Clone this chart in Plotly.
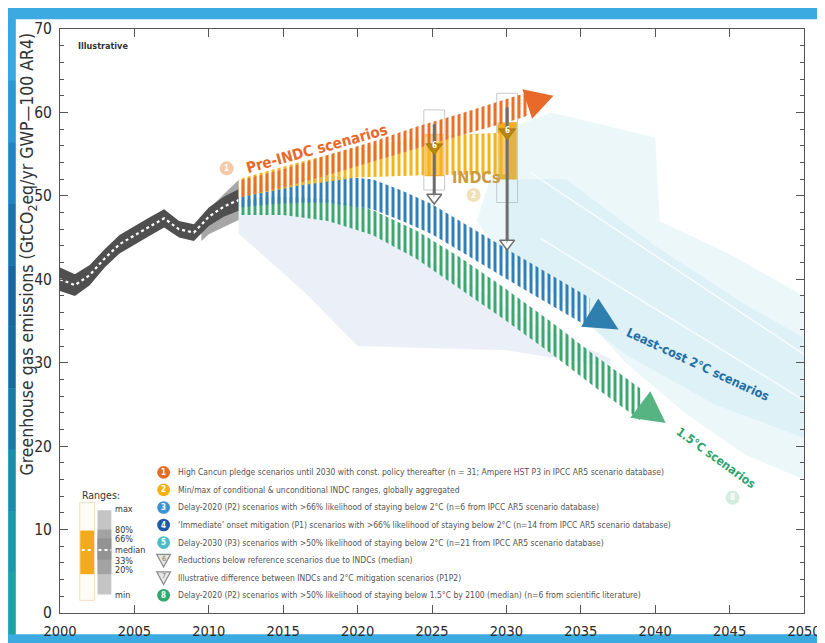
import plotly.graph_objects as go

# ---------------- data ----------------
hist_years = [2000, 2001, 2002, 2003, 2004, 2005, 2006, 2007, 2008, 2009, 2010, 2011, 2012]
hist_median = [40.0, 39.3, 40.5, 42.5, 44.2, 45.3, 46.3, 47.3, 46.0, 45.6, 47.5, 48.7, 49.5]
hist_halfwidth = [1.4, 1.3, 1.2, 1.1, 1.1, 1.1, 1.1, 1.1, 1.0, 1.0, 1.1, 1.2, 1.3]
hist_spread_years = [2009.5, 2010, 2011, 2012]
hist_spread_halfwidth = [1.0, 1.5, 2.0, 2.4]

pre_indc_years = [2012, 2015, 2018, 2021, 2024, 2027, 2030, 2031.4]
pre_indc_center = [50.8, 52.1, 53.7, 55.3, 57.0, 58.6, 60.2, 61.0]
pre_indc_halfwidth = [1.0, 1.1, 1.2, 1.2, 1.3, 1.3, 1.4, 1.4]

indc_years = [2012, 2016, 2020, 2025, 2030]
indc_low = [49.8, 51.2, 52.2, 52.5, 52.6]
indc_high = [52.0, 54.0, 55.8, 57.2, 57.6]

least_cost_years = [2012, 2015, 2018, 2021, 2023, 2025, 2028, 2031, 2035.6]
least_cost_center = [49.8, 50.5, 50.8, 50.2, 48.8, 47.2, 44.0, 40.8, 36.0]
least_cost_halfwidth = [1.2, 1.4, 1.6, 1.8, 1.8, 1.8, 1.8, 1.8, 1.8]

c15_years = [2012, 2015, 2018, 2021, 2024, 2027, 2030, 2033, 2036, 2039.0]
c15_center = [48.6, 48.8, 48.3, 46.8, 44.1, 40.6, 36.9, 33.0, 28.9, 25.0]
c15_halfwidth = [0.9, 1.1, 1.3, 1.5, 1.7, 1.9, 1.9, 1.9, 1.9, 1.9]

# faint scenario ranges
p12_range_x = [2012, 2016, 2020, 2026, 2032, 2037, 2037, 2030, 2020, 2016.4, 2012]
p12_range_y = [48.0, 48.0, 47.0, 41.0, 34.5, 30.5, 29.5, 31.5, 32.0, 38.5, 45.5]
p3_range_x = [2028, 2030, 2033, 2040, 2040.3, 2045, 2050, 2050, 2046, 2042, 2038, 2035, 2030]
p3_range_y = [47.0, 58.0, 60.0, 57.0, 47.0, 43.0, 38.0, 16.0, 19.0, 24.0, 30.0, 36.0, 42.0]
p3_core_x = [2030, 2034, 2040, 2046, 2050, 2050, 2044, 2038, 2033, 2030]
p3_core_y = [52.0, 52.0, 44.0, 37.0, 33.0, 21.0, 25.0, 31.0, 38.0, 44.0]
p3_line_a_x = [2031.6, 2050]
p3_line_a_y = [52.8, 31.0]
p3_line_b_x = [2032.3, 2050]
p3_line_b_y = [44.9, 25.5]

# INDC 2025 / 2030 ranges and reductions
bar_years = [2025.15, 2030.05]
bar_low = [52.4, 52.0]
bar_high = [57.4, 58.8]
bar_outer_low = [50.7, 49.2]
bar_outer_high = [60.3, 62.3]
arrow_top = [58.6, 60.6]
arrow_bottom = [49.4, 43.9]
label6_y = [55.8, 57.6]

# numbered circles in the plot
circle_x = [2011.2, 2027.8, 2045.2]
circle_y = [53.3, 50.1, 13.8]
circle_txt = ["1", "2", "8"]
circle_col = ["#f6c9a9", "#f2e0b8", "#d4ece0"]

legend_texts = [
    "High Cancun pledge scenarios until 2030 with const. policy thereafter (n = 31; Ampere HST P3 in IPCC AR5 scenario database)",
    "Min/max of conditional &amp; unconditional INDC ranges, globally aggregated",
    "Delay-2020 (P2) scenarios with &gt;66% likelihood of staying below 2°C (n=6 from IPCC AR5 scenario database)",
    "‘Immediate’ onset mitigation (P1) scenarios with &gt;66% likelihood of staying below 2°C (n=14 from IPCC AR5 scenario database)",
    "Delay-2030 (P3) scenarios with &gt;50% likelihood of staying below 2°C (n=21 from IPCC AR5 scenario database)",
    "Reductions below reference scenarios due to INDCs (median)",
    "Illustrative difference between INDCs and 2°C mitigation scenarios (P1P2)",
    "Delay-2020 (P2) scenarios with &gt;50% likelihood of staying below 1.5°C by 2100 (median) (n=6 from scientific literature)",
]
legend_nums = ["1", "2", "3", "4", "5", "6", "7", "8"]
legend_cols = ["#e8692a", "#f5b214", "#3b93d2", "#1f5aa8", "#4bbcc9", None, None, "#2ea86c"]

range_labels = ["max", "80%", "66%", "median", "33%", "20%", "min"]

x_ticks = [2000, 2005, 2010, 2015, 2020, 2025, 2030, 2035, 2040, 2045, 2050]
y_ticks = [0, 10, 20, 30, 40, 50, 60, 70]

# ---------------- layout geometry ----------------
W, H = 825, 643
ML, MR, MT, MB = 52, 19, 19, 22
X0, X1, Y0, Y1 = 2000, 2050, 0, 70
PW, PH = W - ML - MR, H - MT - MB
KX, KY = PW / (X1 - X0), PH / (Y1 - Y0)

FONT = "Liberation Sans Narrow, DejaVu Sans Condensed, Arial Narrow, Roboto, sans-serif"


def px(x):
    return (x - ML) / PW


def py(y):
    return (H - MB - y) / PH


def band_xy(xs, center, hw):
    up = [c + h for c, h in zip(center, hw)]
    lo = [c - h for c, h in zip(center, hw)]
    return list(xs) + list(xs[::-1]) + [xs[0]], up + lo[::-1] + [up[0]]


def range_xy(xs, lo, hi):
    return list(xs) + list(xs[::-1]) + [xs[0]], list(hi) + list(lo[::-1]) + [hi[0]]


def head_xy(xs, center, hw_px, len_px):
    dx = (xs[-1] - xs[-2]) * KX
    dy = (center[-1] - center[-2]) * KY
    n = (dx * dx + dy * dy) ** 0.5
    ux, uy = dx / n, dy / n
    qx, qy = -uy, ux
    bx, by = xs[-1], center[-1]
    p1 = (bx + qx * hw_px / KX, by + qy * hw_px / KY)
    p2 = (bx - qx * hw_px / KX, by - qy * hw_px / KY)
    tip = (bx + ux * len_px / KX, by + uy * len_px / KY)
    return [p1[0], tip[0], p2[0], p1[0]], [p1[1], tip[1], p2[1], p1[1]]


fig = go.Figure()


def poly(x, y, color, line=0, lcol=None):
    fig.add_trace(go.Scatter(x=x, y=y, mode="lines", fill="toself", fillcolor=color,
                             line=dict(width=line, color=lcol or color),
                             hoverinfo="skip", showlegend=False))


def hatched(x, y, color, size=6, solidity=0.5):
    fig.add_trace(go.Scatter(x=x, y=y, mode="lines", fill="toself",
                             line=dict(width=0, color=color),
                             fillpattern=dict(shape="|", fgcolor=color, bgcolor="rgba(255,255,255,0.35)",
                                              size=size, solidity=solidity, fillmode="replace"),
                             hoverinfo="skip", showlegend=False))


# faint ranges
poly(p12_range_x, p12_range_y, "rgba(176,192,228,0.25)")
poly(p3_range_x, p3_range_y, "rgba(150,208,226,0.18)")
poly(p3_core_x, p3_core_y, "rgba(150,208,226,0.15)")
for lx, ly in [(p3_line_a_x, p3_line_a_y), (p3_line_b_x, p3_line_b_y)]:
    fig.add_trace(go.Scatter(x=lx, y=ly, mode="lines", line=dict(color="rgba(255,255,255,0.8)", width=1.5),
                             hoverinfo="skip", showlegend=False))

# historical emissions
sx, sy = band_xy(hist_spread_years, [hist_median[-4] + (hist_median[-1] - hist_median[-4]) * i / 3 for i in range(4)],
                 hist_spread_halfwidth)
poly(sx, sy, "rgba(150,150,150,0.85)")
hx, hy = band_xy(hist_years, hist_median, hist_halfwidth)
poly(hx, hy, "#4f4f4f")
fig.add_trace(go.Scatter(x=hist_years, y=hist_median, mode="lines",
                         line=dict(color="white", width=2.2, dash="dot"), hoverinfo="skip", showlegend=False))

# 1.5 C
gx, gy = band_xy(c15_years, c15_center, c15_halfwidth)
hatched(gx, gy, "#3aa86f")
tx, ty = head_xy(c15_years, c15_center, 17, 32)
poly(tx, ty, "#56b483")

# least-cost 2 C
bx_, by_ = band_xy(least_cost_years, least_cost_center, least_cost_halfwidth)
hatched(bx_, by_, "#2f80b8")
tx, ty = head_xy(least_cost_years, least_cost_center, 17, 34)
poly(tx, ty, "#2f7fae")

# INDCs
ix, iy = range_xy(indc_years, indc_low, indc_high)
hatched(ix, iy, "#f5b417", size=6, solidity=0.5)

# pre-INDC
ox, oy = band_xy(pre_indc_years, pre_indc_center, pre_indc_halfwidth)
hatched(ox, oy, "#ec6f26", size=6, solidity=0.5)
tx, ty = head_xy(pre_indc_years, pre_indc_center, 16, 28)
poly(tx, ty, "#e8692a")

# 2025 / 2030 INDC boxes
fig.add_trace(go.Bar(x=bar_years, base=bar_outer_low, y=[h - l for h, l in zip(bar_outer_high, bar_outer_low)],
                     width=1.4, marker=dict(color="rgba(255,255,255,0.55)", line=dict(color="#c9c9c9", width=1)),
                     hoverinfo="skip", showlegend=False))
fig.add_trace(go.Bar(x=bar_years, base=bar_low, y=[h - l for h, l in zip(bar_high, bar_low)],
                     width=1.25, marker=dict(color="#f2ad1c", line=dict(color="#e89a10", width=0.5)),
                     hoverinfo="skip", showlegend=False))
for xv, t, b in zip(bar_years, arrow_top, arrow_bottom):
    fig.add_trace(go.Scatter(x=[xv, xv], y=[t, b + 0.6], mode="lines",
                             line=dict(color="#6e6e6e", width=3), hoverinfo="skip", showlegend=False))
    fig.add_trace(go.Scatter(x=[xv], y=[b + 0.4], mode="markers",
                             marker=dict(symbol="triangle-down", size=13, color="white",
                                         line=dict(color="#6e6e6e", width=1.5)),
                             hoverinfo="skip", showlegend=False))
fig.add_trace(go.Scatter(x=bar_years, y=label6_y, mode="markers",
                         marker=dict(symbol="triangle-down", size=15, color="#b8860b",
                                     line=dict(color="#8a6a10", width=0.5)),
                         hoverinfo="skip", showlegend=False))

# numbered circles
fig.add_trace(go.Scatter(x=circle_x, y=circle_y, mode="markers",
                         marker=dict(size=14, color=circle_col), hoverinfo="skip", showlegend=False))

# ---------------- decorations ----------------
shapes = []
ann = []

for xv, b in zip(bar_years, arrow_bottom):
    ann.append(dict(x=xv, y=b + 0.7, text="7", showarrow=False, xanchor="center", yanchor="middle",
                    font=dict(size=7, color="#777", family=FONT)))
for xv, yv in zip(bar_years, label6_y):
    ann.append(dict(x=xv, y=yv + 0.25, text="<b>6</b>", showarrow=False, xanchor="center", yanchor="middle",
                    font=dict(size=8, color="white", family=FONT)))
for xv, yv, t in zip(circle_x, circle_y, circle_txt):
    ann.append(dict(x=xv, y=yv, text="<b>%s</b>" % t, showarrow=False, xanchor="center", yanchor="middle",
                    font=dict(size=8, color="white", family=FONT)))

# blue frame (paper background) and white panel
shapes.append(dict(type="rect", xref="paper", yref="paper", x0=px(7), x1=px(820), y0=py(643), y1=py(9),
                   fillcolor="white", line=dict(width=0), layer="below"))
left_cols = ["#35a9e0", "#2c97d2", "#2384c0", "#1d72ae", "#1a679f", "#1a6a9c", "#1a7aa3", "#1a8ca6",
             "#1a9aa6", "#1ba3a2"]
n = len(left_cols)
for i, c in enumerate(left_cols):
    shapes.append(dict(type="rect", xref="paper", yref="paper", x0=px(0), x1=px(7),
                       y0=py(9 + (643 - 9) * (i + 1) / n), y1=py(9 + (643 - 9) * i / n),
                       fillcolor=c, line=dict(width=0), layer="below"))

# ranges key
shapes += [
    dict(type="rect", xref="paper", yref="paper", x0=px(72), x1=px(87), y0=py(608), y1=py(507),
         fillcolor="rgba(255,250,240,0.6)", line=dict(color="#f6dfbf", width=1)),
    dict(type="rect", xref="paper", yref="paper", x0=px(72.5), x1=px(86.5), y0=py(581), y1=py(536),
         fillcolor="#f4aa1d", line=dict(width=0)),
    dict(type="rect", xref="paper", yref="paper", x0=px(90), x1=px(104), y0=py(602), y1=py(515),
         fillcolor="#c4c4c4", line=dict(width=0)),
    dict(type="rect", xref="paper", yref="paper", x0=px(90), x1=px(104), y0=py(581), y1=py(535),
         fillcolor="#a3a3a3", line=dict(width=0)),
    dict(type="rect", xref="paper", yref="paper", x0=px(90), x1=px(104), y0=py(566), y1=py(544),
         fillcolor="#939393", line=dict(width=0)),
    dict(type="line", xref="paper", yref="paper", x0=px(74), x1=px(86), y0=py(556), y1=py(556),
         line=dict(color="white", width=2, dash="dot")),
    dict(type="line", xref="paper", yref="paper", x0=px(91), x1=px(104), y0=py(556), y1=py(556),
         line=dict(color="white", width=2, dash="dot")),
]
ann.append(dict(xref="paper", yref="paper", x=px(72), y=py(499), text="Ranges:", showarrow=False,
                xanchor="left", yanchor="middle", font=dict(size=10.5, color="#333", family=FONT)))
for lab, yy in zip(range_labels, [514, 535, 545, 556, 567, 577, 602]):
    ann.append(dict(xref="paper", yref="paper", x=px(106), y=py(yy), text=lab, showarrow=False,
                    xanchor="left", yanchor="middle", font=dict(size=9, color="#333", family=FONT)))

# legend list
for i, (txt, num, col) in enumerate(zip(legend_texts, legend_nums, legend_cols)):
    yy = 476 + 18.1 * i
    if col is not None:
        shapes.append(dict(type="circle", xref="paper", yref="paper", x0=px(150.5), x1=px(163.5),
                           y0=py(yy + 6.5), y1=py(yy - 6.5), fillcolor=col, line=dict(width=0)))
        ann.append(dict(xref="paper", yref="paper", x=px(157), y=py(yy), text="<b>%s</b>" % num, showarrow=False,
                        xanchor="center", yanchor="middle", font=dict(size=8, color="white", family=FONT)))
    else:
        shapes.append(dict(type="path", xref="paper", yref="paper",
                           path="M %f %f L %f %f L %f %f Z" % (px(150), py(yy - 6), px(164), py(yy - 6), px(157), py(yy + 7)),
                           fillcolor="#e6e6e6", line=dict(color="#8a8a8a", width=1.2)))
        ann.append(dict(xref="paper", yref="paper", x=px(157), y=py(yy - 1.5), text=num, showarrow=False,
                        xanchor="center", yanchor="middle", font=dict(size=7, color="#777", family=FONT)))
    ann.append(dict(xref="paper", yref="paper", x=px(170), y=py(yy), text=txt, showarrow=False,
                    xanchor="left", yanchor="middle", font=dict(size=8.5, color="#555", family=FONT)))

# texts on the chart
ann += [
    dict(xref="paper", yref="paper", x=px(68), y=py(37), text="<b>Illustrative</b>", showarrow=False,
         xanchor="left", yanchor="middle", font=dict(size=9, color="#333", family=FONT)),
    dict(xref="paper", yref="paper", x=px(312), y=py(143), text="<b>Pre-INDC scenarios</b>", showarrow=False,
         xanchor="center", yanchor="middle", textangle=-15.5, font=dict(size=15, color="#e8692a", family=FONT)),
    dict(xref="paper", yref="paper", x=px(474), y=py(172), text="<b>INDCs</b>", showarrow=False,
         xanchor="center", yanchor="middle", font=dict(size=16, color="#c99c3e", family=FONT)),
    dict(xref="paper", yref="paper", x=px(699), y=py(365), text="<b>Least-cost 2°C scenarios</b>", showarrow=False,
         xanchor="center", yanchor="middle", textangle=25, font=dict(size=12.5, color="#1f6ea6", family=FONT)),
    dict(xref="paper", yref="paper", x=px(717), y=py(461), text="<b>1.5°C scenarios</b>", showarrow=False,
         xanchor="center", yanchor="middle", textangle=36, font=dict(size=12, color="#2ea36b", family=FONT)),
    dict(xref="paper", yref="paper", x=px(20), y=py(251), textangle=-90, showarrow=False,
         xanchor="center", yanchor="middle",
         text="Greenhouse gas emissions (GtCO<sub>2</sub>eq/yr GWP—100 AR4)",
         font=dict(size=17.5, color="#333", family=FONT)),
]

axis_common = dict(showgrid=False, zeroline=False, showline=True, linecolor="#555", linewidth=1,
                   mirror="ticks", ticks="inside", tickcolor="#555", ticklabeloverflow="allow")
fig.update_layout(
    width=W, height=H, margin=dict(l=ML, r=MR, t=MT, b=MB, pad=0),
    paper_bgcolor="#3aaae0", plot_bgcolor="rgba(0,0,0,0)",
    shapes=shapes, annotations=ann, showlegend=False, barmode="overlay",
    xaxis=dict(range=[X0, X1], tickvals=x_ticks, ticklen=8, ticklabelstandoff=5,
               tickfont=dict(size=14.5, color="#2a2a2a", family=FONT), **axis_common),
    yaxis=dict(range=[Y0, Y1], tickvals=y_ticks, ticklen=8, ticklabelstandoff=4,
               tickfont=dict(size=15.5, color="#2a2a2a", family=FONT),
               minor=dict(dtick=2, ticklen=4, ticks="inside", tickcolor="#555"), **axis_common),
)

fig.write_html("out.html")
